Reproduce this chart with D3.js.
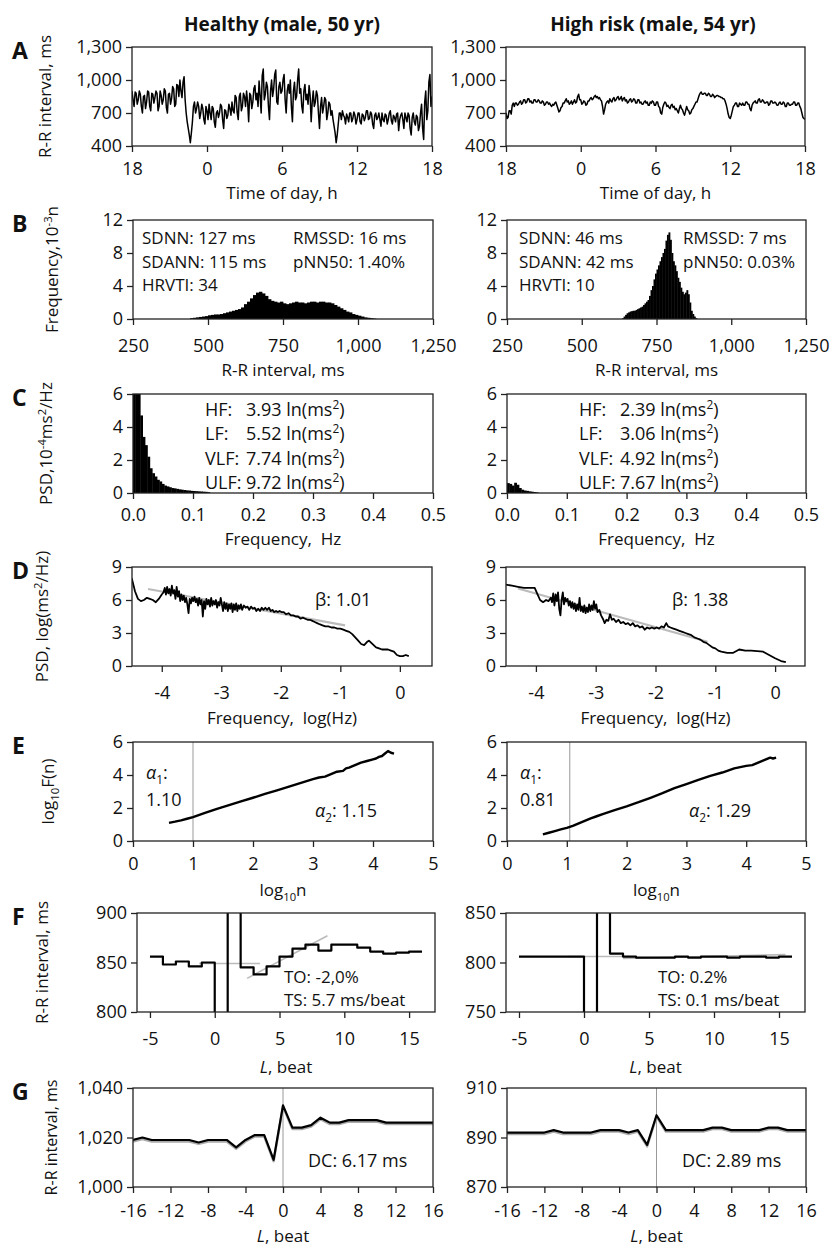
<!DOCTYPE html>
<html>
<head>
<meta charset="utf-8">
<script src="https://cdn.jsdelivr.net/npm/d3@7"></script>
<style>
  body { margin: 0; background: #fff; }
  text { white-space: pre; }
</style>
</head>
<body>
<div id="fig"></div>
<script>
// ---------- data ----------
// A: R-R interval over 24 h (18:00 -> 18:00), one value every 5 min
var aStepHours = 1 / 12;
var aHealthy = [
  900, 820, 760, 890, 880, 780, 820, 900, 870, 760, 700, 850,
  860, 740, 800, 900, 890, 760, 720, 880, 870, 790, 840, 900,
  880, 720, 760, 900, 860, 780, 820, 920, 900, 750, 700, 870,
  880, 780, 830, 940, 920, 760, 780, 960, 950, 850, 1000, 900,
  840, 980, 1030, 820, 700, 620, 560, 500, 430, 520, 620, 760,
  800, 700, 740, 800, 760, 650, 700, 780, 740, 640, 600, 760,
  720, 640, 780, 700, 640, 760, 740, 620, 570, 700, 720, 660,
  700, 780, 760, 640, 560, 730, 720, 650, 680, 780, 740, 680,
  800, 720, 700, 860, 840, 700, 640, 850, 880, 720, 760, 880,
  850, 760, 900, 800, 620, 880, 860, 740, 800, 920, 950, 820,
  880, 760, 990, 860, 700, 1040, 1100, 820, 870, 980, 940, 760,
  640, 900, 1000, 850, 920, 1050, 1090, 800, 780, 940, 980, 880,
  900, 1000, 1050, 820, 700, 900, 960, 880, 1000, 760, 620, 900,
  980, 820, 850, 1000, 1100, 880, 920, 760, 700, 900, 960, 820,
  870, 780, 950, 860, 620, 800, 900, 760, 800, 900, 860, 700,
  560, 760, 840, 700, 760, 840, 820, 640, 700, 800, 780, 680,
  720, 640, 580, 520, 430, 500, 600, 700, 700, 640, 720, 680,
  660, 600, 690, 660, 620, 700, 700, 620, 650, 710, 680, 600,
  640, 700, 700, 620, 600, 690, 680, 630, 660, 720, 720, 640,
  650, 710, 690, 600, 560, 680, 700, 640, 660, 700, 640, 580,
  700, 640, 620, 690, 680, 600, 640, 700, 720, 630, 600, 680,
  660, 620, 690, 700, 540, 640, 680, 700, 640, 560, 700, 660,
  620, 700, 680, 560, 500, 660, 700, 620, 590, 680, 660, 540,
  580, 700, 780, 560, 460, 800, 900, 640, 720, 980, 1050, 760,
  850
];
var aRisk = [
  700, 650, 660, 720, 720, 690, 770, 790, 760, 790, 790, 770,
  780, 800, 810, 780, 790, 820, 820, 790, 800, 830, 830, 800,
  810, 790, 790, 820, 820, 800, 800, 820, 810, 790, 790, 810,
  800, 770, 780, 800, 800, 780, 790, 770, 760, 780, 770, 790,
  800, 770, 740, 710, 720, 750, 760, 790, 790, 810, 830, 800,
  810, 780, 790, 810, 780, 800, 820, 790, 800, 850, 870, 820,
  820, 780, 790, 810, 800, 770, 780, 810, 810, 830, 840, 820,
  830, 850, 860, 840, 850, 830, 840, 820, 810, 760, 690, 730,
  780, 800, 810, 790, 830, 810, 800, 830, 840, 810, 820, 840,
  850, 820, 830, 850, 810, 830, 840, 810, 820, 790, 800, 820,
  830, 800, 810, 830, 820, 790, 790, 820, 820, 790, 800, 780,
  780, 800, 810, 790, 800, 770, 770, 800, 790, 810, 800, 770,
  770, 800, 800, 760, 750, 700, 690, 750, 780, 800, 790, 760,
  770, 750, 740, 770, 780, 750, 760, 730, 740, 720, 700, 740,
  770, 740, 730, 700, 680, 720, 760, 730, 720, 690, 700, 730,
  740, 760, 780, 800, 800, 830, 860, 880, 890, 870, 870, 880,
  880, 860, 860, 880, 870, 850, 850, 870, 860, 840, 850, 860,
  860, 850, 850, 840, 840, 830, 830, 810, 780, 740, 690, 660,
  650, 680, 720, 760, 770, 790, 790, 760, 760, 790, 780, 770,
  790, 770, 770, 800, 800, 780, 780, 740, 720, 770, 790, 800,
  810, 790, 790, 820, 830, 800, 800, 820, 810, 790, 790, 800,
  800, 770, 780, 810, 810, 790, 790, 800, 790, 770, 770, 790,
  800, 780, 780, 800, 790, 760, 760, 790, 790, 770, 770, 780,
  780, 800, 800, 770, 770, 790, 790, 760, 740, 700, 660, 650,
  640
];
var aHourTicks = [0, 6, 12, 18, 24];
var aHourLabels = ['18', '0', '6', '12', '18'];

// B: R-R histograms (10^-3 n)
var bHealthyStart = 440, bHealthyWidth = 10;
var bHealthy = [
  0.1, 0.15, 0.2, 0.25, 0.3, 0.35, 0.45, 0.5, 0.55, 0.55,
  0.6, 0.7, 0.8, 0.9, 1.0, 1.1, 1.2, 1.4, 1.8, 2.1,
  2.5, 2.9, 3.2, 3.3, 3.1, 2.8, 2.4, 2.2, 2.1, 2.0,
  2.1, 1.9, 1.8, 1.9, 2.0, 2.1, 2.0, 2.0, 1.9, 2.0,
  2.1, 2.1, 2.0, 2.1, 2.1, 2.0, 2.0, 1.9, 1.7, 1.5,
  1.3, 1.1, 0.9, 0.8, 0.6, 0.5, 0.4, 0.3, 0.2, 0.15,
  0.1, 0.05
];
var bRiskStart = 635, bRiskWidth = 5;
var bRisk = [
  0.1, 0.3, 0.5, 0.7, 0.8, 0.9, 0.95, 1.0, 1.0, 1.1,
  1.2, 1.3, 1.4, 1.5, 1.7, 1.9, 2.1, 2.3, 2.8, 3.5,
  4.0, 4.8, 5.5, 6.0, 6.5, 7.0, 7.5, 8.0, 8.5, 9.5,
  10.2, 10.5, 9.6, 8.0, 7.0, 6.5, 5.8, 5.0, 4.5, 3.8,
  3.3, 3.0, 3.2, 3.5, 3.0, 2.0, 1.0, 0.6, 0.3, 0.1
];
var bTicks = [250, 500, 750, 1000, 1250];
var bStatsHealthy = [['SDNN: 127 ms', 'SDANN: 115 ms', 'HRVTI: 34'], ['RMSSD: 16 ms', 'pNN50: 1.40%']];
var bStatsRisk = [['SDNN: 46 ms', 'SDANN: 42 ms', 'HRVTI: 10'], ['RMSSD: 7 ms', 'pNN50: 0.03%']];

// C: PSD spectrum (10^-4 ms^2/Hz), bins of 0.004 Hz
var cBinWidth = 0.004;
var cHealthy = [
  9, 9, 7, 4.7, 3.4, 2.9, 2.2, 1.5, 1.2, 1.0,
  0.8, 0.7, 0.55, 0.45, 0.4, 0.35, 0.3, 0.28, 0.25, 0.22,
  0.2, 0.18, 0.16, 0.15, 0.13, 0.12, 0.11, 0.1, 0.09, 0.08,
  0.07, 0.05
];
var cRisk = [0.6, 0.55, 0.45, 0.62, 0.5, 0.3, 0.2, 0.15, 0.13, 0.1, 0.08, 0.06, 0.04];
var cBands = ['HF:', 'LF:', 'VLF:', 'ULF:'];
var cHealthyVals = ['3.93', '5.52', '7.74', '9.72'];
var cRiskVals = ['2.39', '3.06', '4.92', '7.67'];
var cTicks = [0, 0.1, 0.2, 0.3, 0.4, 0.5];

// D: log PSD vs log frequency
var dHealthy = [
  [-4.55, 8.2], [-4.5, 7.9], [-4.45, 6.8], [-4.4, 6.1], [-4.35, 5.9], [-4.3, 6.0], [-4.25, 6.2], [-4.2, 6.1],
  [-4.15, 6.0], [-4.1, 5.8], [-4.05, 6.1], [-4.0, 6.5], [-3.97, 6.7], [-3.95, 7.1], [-3.93, 6.5], [-3.91, 7.2],
  [-3.89, 6.6], [-3.87, 7.0], [-3.85, 6.4], [-3.83, 7.3], [-3.81, 6.6], [-3.79, 6.9], [-3.77, 6.1], [-3.75, 7.2],
  [-3.73, 6.3], [-3.71, 6.8], [-3.69, 5.9], [-3.67, 6.5], [-3.65, 6.0], [-3.63, 6.4], [-3.61, 5.8], [-3.59, 6.2],
  [-3.57, 5.6], [-3.55, 4.8], [-3.53, 6.1], [-3.51, 5.7], [-3.49, 6.2], [-3.47, 5.9], [-3.45, 6.3], [-3.43, 5.8],
  [-3.41, 6.1], [-3.39, 5.5], [-3.37, 6.2], [-3.35, 5.6], [-3.33, 6.0], [-3.31, 4.5], [-3.29, 5.9], [-3.27, 5.2],
  [-3.25, 6.1], [-3.23, 5.6], [-3.21, 6.0], [-3.19, 5.4], [-3.17, 6.2], [-3.15, 5.5], [-3.13, 5.9], [-3.11, 5.6],
  [-3.09, 6.0], [-3.07, 5.3], [-3.05, 5.8], [-3.03, 5.5], [-3.01, 6.2], [-2.99, 5.6], [-2.97, 5.0], [-2.95, 5.8],
  [-2.93, 5.2], [-2.91, 5.7], [-2.89, 5.0], [-2.87, 5.6], [-2.85, 5.2], [-2.83, 5.7], [-2.81, 4.9], [-2.79, 5.6],
  [-2.77, 5.1], [-2.75, 5.7], [-2.73, 5.0], [-2.71, 5.5], [-2.69, 5.2], [-2.67, 5.6], [-2.65, 5.1], [-2.62, 5.5],
  [-2.59, 5.3], [-2.56, 5.4], [-2.53, 5.1], [-2.5, 5.4], [-2.47, 5.2], [-2.44, 5.3], [-2.41, 5.0], [-2.38, 5.2],
  [-2.35, 5.0], [-2.32, 5.3], [-2.29, 5.1], [-2.26, 5.3], [-2.23, 5.1], [-2.2, 5.3], [-2.17, 5.0], [-2.14, 5.1],
  [-2.11, 4.9], [-2.08, 5.0], [-2.05, 4.9], [-2.02, 5.0], [-1.99, 4.9], [-1.95, 4.9], [-1.91, 4.7], [-1.87, 4.8],
  [-1.83, 4.6], [-1.79, 4.6], [-1.75, 4.5], [-1.71, 4.5], [-1.67, 4.3], [-1.63, 4.4], [-1.59, 4.3], [-1.55, 4.2],
  [-1.51, 4.2], [-1.47, 4.1], [-1.43, 4.0], [-1.39, 3.9], [-1.35, 3.8], [-1.3, 3.7], [-1.25, 3.6], [-1.2, 3.6],
  [-1.15, 3.5], [-1.1, 3.5], [-1.05, 3.4], [-1.0, 3.4], [-0.95, 3.3], [-0.9, 3.2], [-0.85, 3.1], [-0.8, 2.9],
  [-0.75, 2.6], [-0.7, 2.3], [-0.65, 2.0], [-0.6, 1.9], [-0.55, 2.2], [-0.52, 2.3], [-0.48, 2.1], [-0.44, 1.9],
  [-0.4, 1.7], [-0.35, 1.6], [-0.3, 1.5], [-0.25, 1.5], [-0.2, 1.5], [-0.15, 1.4], [-0.1, 1.3], [-0.05, 1.0],
  [0.0, 0.9], [0.05, 0.9], [0.1, 1.0], [0.15, 0.9]
];
var dRisk = [
  [-4.5, 7.4], [-4.4, 7.3], [-4.3, 7.2], [-4.2, 7.1], [-4.1, 7.1], [-4.02, 7.1], [-3.98, 6.6], [-3.93, 6.0],
  [-3.88, 5.8], [-3.83, 6.0], [-3.79, 5.9], [-3.75, 6.2], [-3.73, 5.8], [-3.71, 6.6], [-3.69, 5.5], [-3.67, 6.5],
  [-3.65, 5.9], [-3.63, 6.7], [-3.61, 5.2], [-3.59, 4.6], [-3.57, 6.0], [-3.55, 6.7], [-3.53, 5.6], [-3.51, 6.2],
  [-3.49, 5.9], [-3.47, 6.1], [-3.45, 5.5], [-3.43, 5.9], [-3.41, 5.3], [-3.39, 5.8], [-3.37, 5.2], [-3.35, 5.7],
  [-3.33, 5.0], [-3.31, 5.6], [-3.29, 5.1], [-3.27, 6.2], [-3.25, 5.0], [-3.23, 5.4], [-3.21, 4.9], [-3.19, 5.5],
  [-3.17, 4.8], [-3.15, 5.3], [-3.13, 4.9], [-3.11, 5.6], [-3.09, 5.0], [-3.07, 5.5], [-3.05, 5.1], [-3.03, 5.9],
  [-3.01, 5.2], [-2.99, 5.6], [-2.97, 4.9], [-2.94, 5.1], [-2.91, 4.6], [-2.88, 4.3], [-2.85, 3.9], [-2.82, 4.2],
  [-2.79, 4.1], [-2.76, 4.7], [-2.73, 4.2], [-2.7, 4.3], [-2.66, 4.0], [-2.62, 4.2], [-2.58, 3.9], [-2.54, 4.0],
  [-2.5, 3.8], [-2.46, 3.9], [-2.42, 3.7], [-2.38, 3.9], [-2.34, 3.6], [-2.3, 3.7], [-2.26, 3.5], [-2.22, 3.6],
  [-2.18, 3.3], [-2.14, 3.5], [-2.1, 3.4], [-2.06, 3.5], [-2.02, 3.4], [-1.98, 3.5], [-1.94, 3.4], [-1.9, 3.6],
  [-1.86, 3.5], [-1.82, 3.9], [-1.79, 3.6], [-1.75, 3.5], [-1.7, 3.4], [-1.65, 3.3], [-1.6, 3.2], [-1.55, 3.1],
  [-1.5, 3.0], [-1.45, 2.9], [-1.4, 2.8], [-1.35, 2.6], [-1.3, 2.5], [-1.25, 2.4], [-1.2, 2.2], [-1.15, 2.1],
  [-1.1, 1.9], [-1.05, 1.7], [-1.0, 1.6], [-0.95, 1.4], [-0.9, 1.3], [-0.8, 1.2], [-0.7, 1.2], [-0.6, 1.5],
  [-0.5, 1.4], [-0.4, 1.4], [-0.3, 1.35], [-0.2, 1.3], [-0.1, 1.0], [0.0, 0.7], [0.1, 0.45], [0.18, 0.35]
];
var dFitHealthy = [[-4.23, 7.0], [-0.92, 3.7]];
var dFitRisk = [[-4.3, 7.05], [-1.13, 2.2]];
var dBeta = ['1.01', '1.38'];
var dTicks = [-4, -3, -2, -1, 0];

// E: DFA log10 F(n) vs log10 n
var eHealthy = [
  [0.6, 1.1], [0.7, 1.17], [0.8, 1.25], [0.9, 1.35], [1.0, 1.45], [1.2, 1.7], [1.4, 1.95], [1.6, 2.17],
  [1.8, 2.4], [2.0, 2.62], [2.2, 2.85], [2.4, 3.07], [2.6, 3.3], [2.8, 3.52], [3.0, 3.75], [3.1, 3.85],
  [3.2, 3.9], [3.3, 4.05], [3.4, 4.2], [3.5, 4.25], [3.55, 4.4], [3.6, 4.45], [3.7, 4.6], [3.8, 4.75],
  [3.9, 4.85], [4.0, 4.95], [4.05, 5.0], [4.1, 5.1], [4.15, 5.15], [4.2, 5.3], [4.25, 5.45], [4.3, 5.35], [4.35, 5.3]
];
var eRisk = [
  [0.6, 0.4], [0.7, 0.5], [0.8, 0.6], [0.9, 0.7], [1.0, 0.8], [1.1, 0.92], [1.2, 1.07], [1.3, 1.22],
  [1.4, 1.37], [1.5, 1.5], [1.6, 1.63], [1.7, 1.75], [1.8, 1.87], [2.0, 2.1], [2.2, 2.35], [2.4, 2.62],
  [2.6, 2.9], [2.8, 3.2], [3.0, 3.45], [3.2, 3.7], [3.4, 3.95], [3.6, 4.15], [3.8, 4.4], [4.0, 4.55],
  [4.1, 4.6], [4.2, 4.75], [4.3, 4.9], [4.4, 5.05], [4.45, 5.0], [4.5, 5.05]
];
var eCross = [1.0, 1.05];
var eAlpha1 = ['1.10', '0.81'];
var eAlpha2 = ['1.15', '1.29'];
var eTicks = [0, 1, 2, 3, 4, 5];

// F: heart rate turbulence (step plot), lag L = -5 .. 15
var fLags = [-5, -4, -3, -2, -1, 0, 1, 2, 3, 4, 5, 6, 7, 8, 9, 10, 11, 12, 13, 14, 15];
var fHealthy = [856, 848, 851, 846, 850, 760, 950, 845, 838, 846, 856, 864, 868, 862, 868, 868, 865, 861, 859, 860, 861];
var fRisk = [806, 806, 806, 806, 806, 720, 880, 809, 806, 805, 805, 805, 806, 805, 806, 806, 805, 806, 806, 805, 806];
var fEnd = 16;
var fRefHealthy = [[-1.2, 849], [3.5, 849]];
var fFitHealthy = [[2.5, 834], [8.7, 877]];
var fRefRisk = [[-1.2, 806], [3.5, 806]];
var fFitRisk = [[3, 804], [15.5, 808]];
var fText = [['TO: -2,0%', 'TS: 5.7 ms/beat'], ['TO: 0.2%', 'TS: 0.1 ms/beat']];
var fTicks = [-5, 0, 5, 10, 15];

// G: deceleration capacity (PRSA), L = -16 .. 16
var gLags = [-16, -15, -14, -13, -12, -11, -10, -9, -8, -7, -6, -5, -4, -3, -2, -1, 0,
  1, 2, 3, 4, 5, 6, 7, 8, 9, 10, 11, 12, 13, 14, 15, 16];
var gHealthy = [1019, 1020, 1019, 1019, 1019, 1019, 1019, 1018, 1019, 1019, 1019, 1016, 1019, 1021, 1021, 1011, 1033,
  1024, 1024, 1025, 1028, 1026, 1026, 1027, 1027, 1027, 1027, 1026, 1026, 1026, 1026, 1026, 1026];
var gRisk = [892, 892, 892, 892, 892, 893, 892, 892, 892, 892, 893, 893, 893, 892, 893, 887, 899,
  893, 893, 893, 893, 893, 894, 894, 893, 893, 893, 893, 894, 894, 893, 893, 893];
var gDC = ['6.17', '2.89'];
var gTicks = [-16, -12, -8, -4, 0, 4, 8, 12, 16];

// ---------- drawing ----------
var FONT = '"Open Sans", "Noto Sans", sans-serif';
var INK = '#111';
var PH = 99;

var svg = d3.select('#fig').append('svg').attr('width', 839).attr('height', 1246);
var clipCount = 0;
var plain = function(d) { return String(d); };
var comma = d3.format(',');

function rich(x, y, parts, o) {
  o = o || {};
  var fs = o.size || 17;
  var t = svg.append('text').attr('x', x).attr('y', y)
    .attr('font-family', FONT).attr('font-size', fs)
    .attr('font-weight', o.weight || 'normal')
    .attr('text-anchor', o.anchor || 'start')
    .attr('fill', INK);
  if (o.rotate) t.attr('transform', 'rotate(-90,' + x + ',' + y + ')');
  var shift = 0;
  parts.forEach(function(p) {
    var s = Array.isArray(p) ? p[0] : p;
    var kind = Array.isArray(p) ? p[1] : '';
    var target = kind.indexOf('sup') >= 0 ? -fs * 0.38 : kind.indexOf('sub') >= 0 ? fs * 0.28 : 0;
    var ts = t.append('tspan').text(s);
    if (target !== shift) ts.attr('dy', target - shift);
    shift = target;
    if (kind.indexOf('sup') >= 0 || kind.indexOf('sub') >= 0) ts.attr('font-size', fs * 0.66);
    if (kind.indexOf('it') >= 0) ts.attr('font-style', 'italic');
  });
  return t;
}

function panel(p) {
  var x = d3.scaleLinear().domain(p.xd).range([p.x0, p.x1]);
  var y = d3.scaleLinear().domain(p.yd).range([p.y0 + PH, p.y0]);
  var id = 'clip' + (clipCount++);
  svg.append('clipPath').attr('id', id).append('rect')
    .attr('x', p.x0).attr('y', p.y0).attr('width', p.x1 - p.x0).attr('height', PH);
  var g = svg.append('g');
  var plot = g.append('g').attr('clip-path', 'url(#' + id + ')');
  var xa = g.append('g').attr('transform', 'translate(0,' + (p.y0 + PH) + ')')
    .call(d3.axisBottom(x).tickValues(p.xt).tickFormat(p.xf).tickSize(6).tickPadding(p.xpad));
  var ya = g.append('g').attr('transform', 'translate(' + p.x0 + ',0)')
    .call(d3.axisLeft(y).tickValues(p.yt).tickFormat(p.yf).tickSize(6).tickPadding(4));
  [xa, ya].forEach(function(a) {
    a.attr('font-family', FONT).attr('font-size', 18);
    a.select('.domain').remove();
    a.selectAll('line').attr('stroke', '#222').attr('stroke-width', 1.3);
    a.selectAll('text').attr('fill', INK);
  });
  g.append('rect').attr('x', p.x0).attr('y', p.y0).attr('width', p.x1 - p.x0).attr('height', PH)
    .attr('fill', 'none').attr('stroke', '#222').attr('stroke-width', 1.3);
  // axis title
  rich((p.x0 + p.x1) / 2, p.y0 + PH + p.tpad, p.xtitle, {anchor: 'middle', size: 17});
  return {x: x, y: y, plot: plot};
}

function line(plot, x, y, pts, color, w, curve) {
  var gen = d3.line().x(function(d) { return x(d[0]); }).y(function(d) { return y(d[1]); });
  if (curve) gen.curve(curve);
  return plot.append('path').datum(pts).attr('d', gen)
    .attr('fill', 'none').attr('stroke', color).attr('stroke-width', w).attr('stroke-linejoin', 'round');
}

var LEFT = [133, 433], RIGHT = [507, 806];

// titles and panel letters
rich(282, 31, ['Healthy (male, 50 yr)'], {anchor: 'middle', size: 19, weight: 'bold'});
rich(653, 31, ['High risk (male, 54 yr)'], {anchor: 'middle', size: 19, weight: 'bold'});
[['A', 47], ['B', 220], ['C', 394], ['D', 567], ['E', 742], ['F', 913], ['G', 1088]].forEach(function(r) {
  rich(12, r[1] + 12, [r[0]], {size: 23, weight: 'bold'});
});

// ---- row A ----
var yA = 47;
[[aHealthy, [132, 432]], [aRisk, [506, 805]]].forEach(function(c) {
  var pn = panel({x0: c[1][0], x1: c[1][1], y0: yA, xd: [0, 24], yd: [400, 1300],
    xt: aHourTicks, xf: function(d, i) { return aHourLabels[i]; }, yt: [400, 700, 1000, 1300], yf: comma,
    xpad: 10, tpad: 53, xtitle: ['Time of day, h']});
  var pts = c[0].map(function(v, i) { return [i * aStepHours, v]; });
  line(pn.plot, pn.x, pn.y, pts, '#000', 1.5);
});
rich(51, yA + PH / 2, ['R-R interval, ms'], {anchor: 'middle', size: 17, rotate: true});

// ---- row B ----
var yB = 220;
[[bHealthy, bHealthyStart, bHealthyWidth, LEFT, bStatsHealthy, 9, 160], [bRisk, bRiskStart, bRiskWidth, RIGHT, bStatsRisk, 12, 176]].forEach(function(c) {
  var pn = panel({x0: c[3][0], x1: c[3][1], y0: yB, xd: [250, 1250], yd: [0, 12],
    xt: bTicks, xf: comma, yt: [0, 4, 8, 12], yf: plain,
    xpad: 14, tpad: 57, xtitle: ['R-R interval, ms']});
  pn.plot.selectAll('rect.bin').data(c[0]).enter().append('rect').attr('class', 'bin')
    .attr('x', function(d, i) { return pn.x(c[1] + i * c[2]); })
    .attr('width', pn.x(c[2]) - pn.x(0) + 0.4)
    .attr('y', function(d) { return pn.y(d); })
    .attr('height', function(d) { return pn.y(0) - pn.y(d); })
    .attr('fill', '#000');
  c[4][0].forEach(function(s, i) { rich(c[3][0] + c[5], yB + 24 + i * 23.5, [s], {size: 17}); });
  c[4][1].forEach(function(s, i) { rich(c[3][0] + c[6], yB + 24 + i * 23.5, [s], {size: 17}); });
});
rich(58, yB + PH / 2, ['Frequency,10', ['-3', 'sup'], 'n'], {anchor: 'middle', size: 17, rotate: true});

// ---- row C ----
var yC = 394;
[[cHealthy, LEFT, cHealthyVals], [cRisk, RIGHT, cRiskVals]].forEach(function(c) {
  var pn = panel({x0: c[1][0], x1: c[1][1], y0: yC, xd: [0, 0.5], yd: [0, 6],
    xt: cTicks, xf: d3.format('.1f'), yt: [0, 2, 4, 6], yf: plain,
    xpad: 9, tpad: 52, xtitle: ['Frequency,  Hz']});
  pn.plot.selectAll('rect.bin').data(c[0]).enter().append('rect').attr('class', 'bin')
    .attr('x', function(d, i) { return pn.x(i * cBinWidth); })
    .attr('width', pn.x(cBinWidth) - pn.x(0) + 0.4)
    .attr('y', function(d) { return pn.y(d); })
    .attr('height', function(d) { return pn.y(0) - pn.y(d); })
    .attr('fill', '#000');
  cBands.forEach(function(b, i) {
    var yy = yC + 22 + i * 24.3;
    rich(c[1][0] + 72, yy, [b], {size: 18});
    rich(c[1][0] + 113, yy, [c[2][i] + ' ln(ms', ['2', 'sup'], ')'], {size: 18});
  });
});
rich(52, yC + PH / 2, ['PSD,10', ['-4', 'sup'], 'ms', ['2', 'sup'], '/Hz'], {anchor: 'middle', size: 17, rotate: true});

// ---- row D ----
var yD = 567;
[[dHealthy, dFitHealthy, [132, 432], dBeta[0], [-4.5, 0.54], 183], [dRisk, dFitRisk, [506, 805], dBeta[1], [-4.5, 0.5], 166]].forEach(function(c) {
  var pn = panel({x0: c[2][0], x1: c[2][1], y0: yD, xd: c[4], yd: [0, 9],
    xt: dTicks, xf: plain, yt: [0, 3, 6, 9], yf: plain,
    xpad: 14, tpad: 58, xtitle: ['Frequency,  log(Hz)']});
  line(pn.plot, pn.x, pn.y, c[1], '#bbb', 2.2);
  line(pn.plot, pn.x, pn.y, c[0], '#000', 1.8);
  rich(c[2][0] + c[5], yD + 39, ['β: ' + c[3]], {size: 18});
});
rich(48, yD + PH / 2, ['PSD, log(ms', ['2', 'sup'], '/Hz)'], {anchor: 'middle', size: 17, rotate: true});

// ---- row E ----
var yE = 742;
[[eHealthy, LEFT, 0], [eRisk, RIGHT, 1]].forEach(function(c) {
  var pn = panel({x0: c[1][0], x1: c[1][1], y0: yE, xd: [0, 5], yd: [0, 6],
    xt: eTicks, xf: plain, yt: [0, 2, 4, 6], yf: plain,
    xpad: 10, tpad: 55, xtitle: ['log', ['10', 'sub'], 'n']});
  pn.plot.append('line').attr('x1', pn.x(eCross[c[2]])).attr('x2', pn.x(eCross[c[2]]))
    .attr('y1', yE).attr('y2', yE + PH).attr('stroke', '#999').attr('stroke-width', 1);
  line(pn.plot, pn.x, pn.y, c[0], '#000', 2.4);
  var tx = c[1][0] + 13;
  rich(tx, yE + 37, [['α', 'it'], ['1', 'sub'], ':'], {size: 18});
  rich(tx, yE + 64, [eAlpha1[c[2]]], {size: 18});
  rich(c[1][0] + 182, yE + 75, [['α', 'it'], ['2', 'sub'], ': ' + eAlpha2[c[2]]], {size: 18});
});
rich(54, yE + PH / 2, ['log', ['10', 'sub'], 'F(n)'], {anchor: 'middle', size: 17, rotate: true});

// ---- row F ----
var yF = 913;
[[fHealthy, [137, 435], [800, 900], [800, 850, 900], fRefHealthy, fFitHealthy, 0],
 [fRisk, [506, 805], [750, 850], [750, 800, 850], fRefRisk, fFitRisk, 1]].forEach(function(c) {
  var pn = panel({x0: c[1][0], x1: c[1][1], y0: yF, xd: [-6, 17], yd: c[2],
    xt: fTicks, xf: plain, yt: c[3], yf: plain,
    xpad: 14, tpad: 61, xtitle: [['L', 'it'], ', beat']});
  line(pn.plot, pn.x, pn.y, c[4], '#bbb', 1.6);
  line(pn.plot, pn.x, pn.y, c[5], '#bbb', 1.6);
  var pts = fLags.map(function(l, i) { return [l, c[0][i]]; });
  pts.push([fEnd, c[0][c[0].length - 1]]);
  line(pn.plot, pn.x, pn.y, pts, '#000', 2.2, d3.curveStepAfter);
  var tx = c[6] === 0 ? 284 : 658;
  rich(tx, yF + 70, [fText[c[6]][0]], {size: 17});
  rich(tx, yF + 93, [fText[c[6]][1]], {size: 17});
});
rich(48, yF + PH / 2, ['R-R interval, ms'], {anchor: 'middle', size: 17, rotate: true});

// ---- row G ----
var yG = 1088;
[[gHealthy, LEFT, [1000, 1040], [1000, 1020, 1040], comma, 0], [gRisk, RIGHT, [870, 910], [870, 890, 910], plain, 1]].forEach(function(c) {
  var pn = panel({x0: c[1][0], x1: c[1][1], y0: yG, xd: [-16, 16], yd: c[2],
    xt: gTicks, xf: plain, yt: c[3], yf: c[4],
    xpad: 11, tpad: 55, xtitle: [['L', 'it'], ', beat']});
  pn.plot.append('line').attr('x1', pn.x(0)).attr('x2', pn.x(0))
    .attr('y1', yG).attr('y2', yG + PH).attr('stroke', '#999').attr('stroke-width', 1);
  var pts = gLags.map(function(l, i) { return [l, c[0][i]]; });
  line(pn.plot, pn.x, pn.y, pts, '#aaa', 2.4).attr('transform', 'translate(0,1.5)');
  line(pn.plot, pn.x, pn.y, pts, '#000', 2.2);
  rich(c[1][0] + 175, yG + 79, ['DC: ' + gDC[c[5]] + ' ms'], {size: 18});
});
rich(57, yG + PH / 2, ['R-R interval, ms'], {anchor: 'middle', size: 16, rotate: true});
</script>
</body>
</html>
